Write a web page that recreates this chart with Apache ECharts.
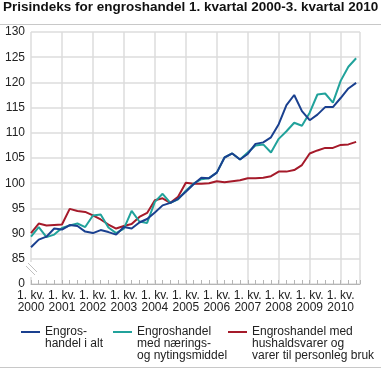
<!DOCTYPE html>
<html>
<head>
<meta charset="utf-8">
<script src="https://cdn.jsdelivr.net/npm/echarts@6/dist/echarts.min.js"></script>
<style>
html,body{margin:0;padding:0;background:#fff;}
#chart{width:381px;height:369px;}
</style>
</head>
<body>
<div id="chart"></div>
<script>
// ---- data ----
const years = ['2000','2001','2002','2003','2004','2005','2006','2007','2008','2009','2010'];
const quarters = [];
years.forEach(y => { for (let q = 1; q <= 4; q++) { if (quarters.length < 43) quarters.push(q + '. kv. ' + y); } });

const seriesNames = [
  'Engros-\nhandel i alt',
  'Engroshandel\nmed nærings-\nog nytingsmiddel',
  'Engroshandel med\nhushaldsvarer og\nvarer til personleg bruk'
];

const totalIndex = [
  87.3, 88.8, 89.4, 91.0, 90.8, 91.7, 91.5, 90.4, 90.1, 90.7, 90.3, 89.8,
  91.3, 91.0, 92.2, 92.9, 94.2, 95.6, 96.1, 96.9, 98.3, 99.8, 101.1, 101.0,
  102.1, 105.1, 105.9, 104.7, 105.8, 107.8, 108.1, 109.1, 111.7, 115.5, 117.5, 114.3,
  112.5, 113.6, 115.1, 115.1, 116.9, 118.8, 119.9
];
const foodIndex = [
  89.4, 91.3, 89.3, 89.8, 91.1, 91.6, 92.0, 91.3, 93.6, 93.8, 91.2, 90.1,
  91.0, 94.5, 92.4, 92.1, 96.3, 97.9, 96.1, 96.8, 98.5, 99.9, 100.8, 101.0,
  102.1, 105.1, 105.9, 104.7, 106.1, 107.5, 107.7, 106.1, 108.8, 110.3, 112.0, 111.4,
  114.0, 117.6, 117.8, 116.0, 120.3, 123.1, 124.8
];
const householdIndex = [
  90.1, 92.0, 91.6, 91.7, 91.8, 94.9, 94.5, 94.3, 93.6, 92.8, 91.8, 91.0,
  91.5, 91.9, 93.3, 94.1, 96.6, 97.0, 96.1, 97.3, 100.1, 99.9, 99.9, 100.0,
  100.4, 100.2, 100.4, 100.6, 101.0, 101.0, 101.1, 101.4, 102.3, 102.3, 102.6, 103.6,
  105.9, 106.5, 107.0, 107.0, 107.6, 107.7, 108.2
];
const yTicks = [80, 85, 90, 95, 100, 105, 110, 115, 120, 125, 130];
const yTickLabels = ['0', '85', '90', '95', '100', '105', '110', '115', '120', '125', '130'];

// ---- chart ----
const colors = ['#1a408f', '#21a29b', '#a51a2a'];
const toPairs = arr => arr.map((v, i) => [i, v]);
const iconShort = 'path://M0,0L19,0L19,2L0,2Z M9,13.95L9.05,13.95L9.05,14L9,14Z';
const iconTall = 'path://M0,0L19,0L19,2L0,2Z M9,25.95L9.05,25.95L9.05,26L9,26Z';
const font = 'Liberation Sans, Arial, sans-serif';

const chart = echarts.init(document.getElementById('chart'), null, {renderer: 'canvas'});

function legendAt(left, name, icon) {
  return {
    data: [{name: name, icon: icon}],
    left: left, top: 326, padding: 0,
    itemWidth: 19, itemHeight: icon === iconShort ? 14 : 26,
    itemStyle: {borderWidth: 0},
    selectedMode: false,
    textStyle: {fontFamily: font, fontSize: 12, lineHeight: 12, color: '#222', padding: [0,0,0,0]}
  };
}

chart.setOption({
  animation: false,
  title: {
    text: 'Prisindeks for engroshandel 1. kvartal 2000-3. kvartal 2010',
    left: 3, top: 0, padding: 0,
    textStyle: {fontFamily: font, fontSize: 13.5, fontWeight: 'bold', color: '#111'}
  },
  legend: [
    legendAt(21, seriesNames[0], iconShort),
    legendAt(113, seriesNames[1], iconTall),
    legendAt(228, seriesNames[2], iconTall)
  ],
  grid: {left: 31, right: 21, top: 32, bottom: 85, containLabel: false},
  xAxis: {
    type: 'value', min: 0, max: 42.5, interval: 4,
    axisLine: {show: true, lineStyle: {color: '#b5b5b5', width: 1}},
    axisTick: {show: true, inside: true, length: 4, lineStyle: {color: '#b5b5b5'}},
    minorTick: {show: true, splitNumber: 4, length: 4, lineStyle: {color: '#b5b5b5'}},
    splitLine: {show: true, lineStyle: {color: '#dcdcdc', width: 1.5}},
    axisLabel: {
      margin: 6, fontFamily: font, fontSize: 12, lineHeight: 12, color: '#222',
      showMaxLabel: false,
      formatter: v => (v % 4 === 0 && years[v / 4]) ? '1. kv.\n' + years[v / 4] : ''
    }
  },
  yAxis: {
    type: 'value', min: 80, max: 130, interval: 5,
    axisLine: {show: false}, axisTick: {show: false},
    splitLine: {show: true, lineStyle: {color: '#dcdcdc', width: 1.5}},
    axisLabel: {
      margin: 6, fontFamily: font, fontSize: 12, color: '#222',
      formatter: v => { const k = yTicks.indexOf(v); return k >= 0 ? yTickLabels[k] : ''; }
    }
  },
  series: [
    {name: seriesNames[0], type: 'line', data: toPairs(totalIndex), showSymbol: false, symbol: 'none',
     lineStyle: {color: colors[0], width: 2}, itemStyle: {color: colors[0]}, z: 4},
    {name: seriesNames[1], type: 'line', data: toPairs(foodIndex), showSymbol: false, symbol: 'none',
     lineStyle: {color: colors[1], width: 2}, itemStyle: {color: colors[1]}, z: 3},
    {name: seriesNames[2], type: 'line', data: toPairs(householdIndex), showSymbol: false, symbol: 'none',
     lineStyle: {color: colors[2], width: 2}, itemStyle: {color: colors[2]}, z: 2}
  ],
  graphic: [
    {type: 'line', shape: {x1: 0, y1: 24.5, x2: 381, y2: 24.5}, style: {stroke: '#c8c8c8', lineWidth: 1}, silent: true},
    {type: 'line', shape: {x1: 0, y1: 367.5, x2: 381, y2: 367.5}, style: {stroke: '#c8c8c8', lineWidth: 1}, silent: true},
    {type: 'rect', shape: {x: 24, y: 262, width: 14, height: 15}, style: {fill: '#fff'}, silent: true, z: 10},
    {type: 'line', shape: {x1: 28, y1: 263, x2: 37, y2: 272}, style: {stroke: '#c0c0c0', lineWidth: 1}, silent: true, z: 11},
    {type: 'line', shape: {x1: 26, y1: 266, x2: 35, y2: 275}, style: {stroke: '#c0c0c0', lineWidth: 1}, silent: true, z: 11}
  ]
});
</script>
</body>
</html>
